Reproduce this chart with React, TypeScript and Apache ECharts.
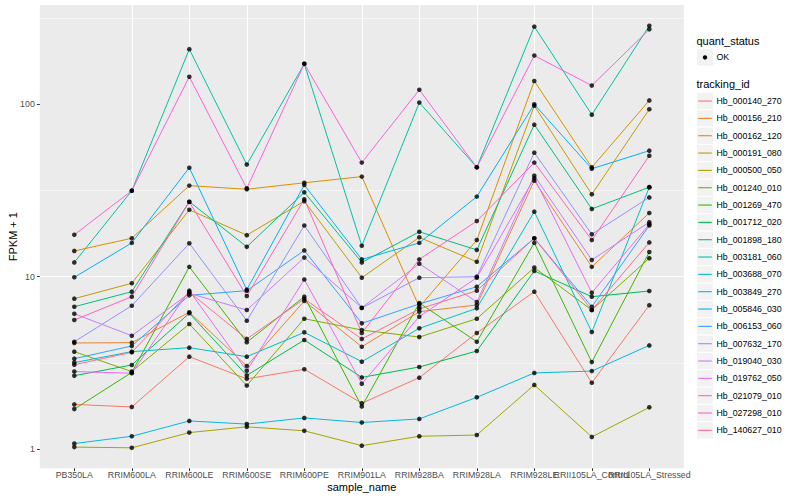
import React, { useEffect, useRef } from 'react';
import * as echarts from 'echarts';

const categories = [
  'PB350LA', 'RRIM600LA', 'RRIM600LE', 'RRIM600SE', 'RRIM600PE', 'RRIM901LA',
  'RRIM928BA', 'RRIM928LA', 'RRIM928LE', 'RRII105LA_Control', 'RRII105LA_Stressed',
];

const trackingIds = [
  'Hb_000140_270', 'Hb_000156_210', 'Hb_000162_120', 'Hb_000191_080', 'Hb_000500_050',
  'Hb_001240_010', 'Hb_001269_470', 'Hb_001712_020', 'Hb_001898_180', 'Hb_003181_060',
  'Hb_003688_070', 'Hb_003849_270', 'Hb_005846_030', 'Hb_006153_060', 'Hb_007632_170',
  'Hb_019040_030', 'Hb_019762_050', 'Hb_021079_010', 'Hb_027298_010', 'Hb_140627_010',
];

const trackingColors = [
  '#F8766D', '#EA8331', '#D89000', '#C09B00', '#A3A500',
  '#7CAE00', '#39B600', '#00BB4E', '#00BF7D', '#00C1A3',
  '#00BFC4', '#00BAE0', '#00B0F6', '#35A2FF', '#9590FF',
  '#C77CFF', '#E76BF3', '#FA62DB', '#FF62BC', '#FF6C91',
];

// FPKM + 1 values, one per sample_name
const hb_000140_270 = [1.82, 1.76, 3.44, 2.56, 2.91, 1.85, 2.6, 4.72, 8.19, 2.43, 6.83];
const hb_000156_210 = [4.13, 4.15, 6.22, 3.04, 7.23, 3.93, 6.27, 6.86, 36.0, 11.4, 23.4];
const hb_000162_120 = [14.1, 16.7, 33.7, 32.1, 35.0, 38.0, 6.67, 16.3, 136, 43.0, 105];
const hb_000191_080 = [7.46, 9.16, 24.4, 17.4, 27.4, 9.87, 16.9, 12.2, 97.9, 30.0, 93.3];
const hb_000500_050 = [1.03, 1.02, 1.25, 1.35, 1.28, 1.05, 1.19, 1.21, 2.36, 1.18, 1.75];
const hb_001240_010 = [3.68, 2.82, 5.32, 2.34, 5.71, 4.91, 4.47, 5.71, 11.3, 6.41, 12.8];
const hb_001269_470 = [1.71, 2.79, 11.4, 4.17, 7.66, 1.77, 7.04, 4.2, 15.7, 3.2, 13.9];
const hb_001712_020 = [2.67, 3.08, 6.14, 2.68, 4.3, 2.61, 3.0, 3.71, 10.8, 7.66, 8.26];
const hb_001898_180 = [6.7, 8.19, 27.2, 14.9, 30.8, 12.1, 18.2, 14.3, 76.0, 24.7, 33.0];
const hb_003181_060 = [12.1, 31.5, 208, 44.6, 171, 15.1, 102, 43.0, 281, 86.8, 284];
const hb_003688_070 = [3.18, 3.68, 3.88, 3.44, 4.76, 3.22, 5.02, 6.56, 23.8, 4.78, 33.0];
const hb_003849_270 = [1.08, 1.19, 1.46, 1.4, 1.52, 1.43, 1.5, 2.0, 2.77, 2.84, 4.0];
const hb_005846_030 = [9.92, 15.7, 42.8, 8.41, 34.0, 12.6, 15.7, 29.1, 99.7, 42.2, 53.7];
const hb_006153_060 = [3.35, 3.97, 7.8, 8.3, 14.2, 5.37, 6.95, 8.75, 16.7, 6.7, 19.8];
const hb_007632_170 = [4.2, 6.79, 15.6, 5.56, 19.8, 6.59, 9.87, 10.0, 52.3, 17.6, 28.8];
const hb_019040_030 = [6.1, 4.55, 8.01, 6.41, 12.9, 6.61, 11.9, 7.14, 38.5, 12.5, 20.7];
const hb_019762_050 = [2.82, 2.76, 8.3, 2.85, 9.63, 2.4, 5.87, 9.87, 37.2, 8.08, 20.1];
const hb_021079_010 = [17.5, 31.5, 144, 32.5, 171, 45.8, 121, 43.0, 191, 128, 271];
const hb_027298_010 = [5.61, 7.66, 27.1, 7.73, 28.1, 4.72, 12.6, 21.0, 45.8, 16.3, 50.2];
const hb_140627_010 = [3.09, 3.65, 8.15, 4.36, 7.43, 4.36, 6.5, 8.3, 16.7, 6.41, 15.8];

const seriesValues = [
  hb_000140_270, hb_000156_210, hb_000162_120, hb_000191_080, hb_000500_050,
  hb_001240_010, hb_001269_470, hb_001712_020, hb_001898_180, hb_003181_060,
  hb_003688_070, hb_003849_270, hb_005846_030, hb_006153_060, hb_007632_170,
  hb_019040_030, hb_019762_050, hb_021079_010, hb_027298_010, hb_140627_010,
];

const yTickLabels = [1, 10, 100];
const quantStatus = ['OK'];

const FONT = '"Liberation Sans", Arial, Helvetica, sans-serif';

export default function App() {
  const ref = useRef<HTMLDivElement>(null);

  useEffect(() => {
    if (!ref.current) return;
    const chart = echarts.init(ref.current, null, { renderer: 'svg' });

    const gridLeft = 39.8;
    const gridRight = 116.2;
    const gridTop = 5;
    const gridBottom = 31.7;
    const xMin = -0.6;
    const xMax = categories.length - 1 + 0.6;

    const lineSeries: any[] = trackingIds.map((id, k) => ({
      type: 'line',
      name: id,
      xAxisIndex: 0,
      data: seriesValues[k].map((v, i) => [i, Math.log10(v)]),
      symbol: 'none',
      silent: true,
      z: 2,
      lineStyle: { color: trackingColors[k], width: 1 },
      itemStyle: { color: trackingColors[k] },
    }));

    const points: number[][] = [];
    seriesValues.forEach((vals) => vals.forEach((v, i) => points.push([i, Math.log10(v)])));

    const scatter = {
      type: 'scatter',
      name: 'OK',
      xAxisIndex: 0,
      data: points,
      symbol: 'circle',
      symbolSize: 4.6,
      silent: true,
      z: 3,
      itemStyle: { color: '#000000' },
    };

    const graphics: any[] = [];
    const legX = 696.5;
    const keyW = 17;
    const keyH = 17.33;
    graphics.push({
      type: 'text', x: legX, y: 40.7,
      style: { text: 'quant_status', fontSize: 11, fontFamily: FONT, fill: '#000000', align: 'left', verticalAlign: 'middle' },
    });
    quantStatus.forEach((s, i) => {
      const y0 = 48.8 + i * keyH;
      graphics.push({ type: 'rect', shape: { x: legX, y: y0, width: keyW, height: keyH }, style: { fill: '#F2F2F2', stroke: '#FFFFFF', lineWidth: 1 } });
      graphics.push({ type: 'circle', shape: { cx: legX + keyW / 2, cy: y0 + keyH / 2, r: 2.2 }, style: { fill: '#000000' } });
      graphics.push({
        type: 'text', x: legX + 20, y: y0 + keyH / 2,
        style: { text: s, fontSize: 8.8, fontFamily: FONT, fill: '#000000', align: 'left', verticalAlign: 'middle' },
      });
    });
    graphics.push({
      type: 'text', x: legX, y: 84.3,
      style: { text: 'tracking_id', fontSize: 11, fontFamily: FONT, fill: '#000000', align: 'left', verticalAlign: 'middle' },
    });
    trackingIds.forEach((id, i) => {
      const y0 = 92.4 + i * keyH;
      const cy = y0 + keyH / 2;
      graphics.push({ type: 'rect', shape: { x: legX, y: y0, width: keyW, height: keyH }, style: { fill: '#F2F2F2', stroke: '#FFFFFF', lineWidth: 1 } });
      graphics.push({ type: 'line', shape: { x1: legX + 1.7, y1: cy, x2: legX + keyW - 1.7, y2: cy }, style: { stroke: trackingColors[i], lineWidth: 1.1 } });
      graphics.push({
        type: 'text', x: legX + 20, y: cy,
        style: { text: id, fontSize: 8.8, fontFamily: FONT, fill: '#000000', align: 'left', verticalAlign: 'middle' },
      });
    });

    const catIdx = categories.map((_, i) => i);
    // two label rows on separate axes so that overlapping neighbours are both kept
    const mainLabelIdx = catIdx.filter((i) => i !== 9);
    const extraLabelIdx = [9];
    const yTickPos = yTickLabels.map((v) => Math.log10(v));

    const labelStyle = { color: '#4D4D4D', fontSize: 8.8, fontFamily: FONT, margin: 2.5, hideOverlap: false };

    chart.setOption({
      animation: false,
      backgroundColor: '#FFFFFF',
      textStyle: { fontFamily: FONT },
      grid: {
        left: gridLeft, right: gridRight, top: gridTop, bottom: gridBottom,
        show: true, backgroundColor: '#EBEBEB', borderWidth: 0,
        containLabel: false, outerBoundsMode: 'none',
      },
      xAxis: [
        {
          type: 'value',
          min: xMin,
          max: xMax,
          minInterval: 1,
          maxInterval: 1,
          name: 'sample_name',
          nameLocation: 'middle',
          nameGap: 13.5,
          nameMoveOverlap: false,
          nameTextStyle: { fontSize: 11, color: '#000000', fontFamily: FONT, verticalAlign: 'top' },
          axisLine: { show: false, onZero: false },
          axisTick: { show: true, length: 2.75, lineStyle: { color: '#333333', width: 1 }, customValues: catIdx },
          axisLabel: {
            ...labelStyle,
            customValues: mainLabelIdx,
            showMinLabel: true,
            showMaxLabel: true,
            formatter: (v: number) => categories[Math.round(v)] ?? '',
          },
          splitLine: { show: true, showMinLine: false, showMaxLine: false, lineStyle: { color: '#FFFFFF', width: 1.1 } },
        },
        {
          type: 'value',
          min: xMin,
          max: xMax,
          minInterval: 1,
          maxInterval: 1,
          position: 'bottom',
          offset: 0,
          axisLine: { show: false, onZero: false },
          axisTick: { show: false },
          splitLine: { show: false },
          axisLabel: {
            ...labelStyle,
            customValues: extraLabelIdx,
            showMinLabel: true,
            showMaxLabel: true,
            formatter: (v: number) => categories[Math.round(v)] ?? '',
          },
        },
      ],
      yAxis: {
        type: 'value',
        min: -0.11,
        max: 2.574,
        minInterval: 1,
        maxInterval: 1,
        name: 'FPKM + 1',
        nameLocation: 'middle',
        nameGap: 21,
        nameMoveOverlap: false,
        nameTextStyle: { fontSize: 11, color: '#000000', fontFamily: FONT },
        axisLine: { show: false, onZero: false },
        axisTick: { show: true, length: 2.75, lineStyle: { color: '#333333', width: 1 }, customValues: yTickPos },
        axisLabel: {
          customValues: yTickPos,
          formatter: (v: number) => String(Math.round(Math.pow(10, v))),
          showMinLabel: true,
          showMaxLabel: true,
          color: '#4D4D4D', fontSize: 8.8, fontFamily: FONT, margin: 5,
        },
        splitLine: { show: true, showMinLine: false, showMaxLine: false, lineStyle: { color: '#FFFFFF', width: 1.1 } },
        minorTick: { show: false, splitNumber: 2 },
        minorSplitLine: { show: true, lineStyle: { color: '#FFFFFF', width: 0.55 } },
      },
      series: [...lineSeries, scatter],
      graphic: graphics,
    });

    return () => chart.dispose();
  }, []);

  return <div ref={ref} style={{ position: 'fixed', left: 0, top: 0, width: 800, height: 500 }} />;
}
